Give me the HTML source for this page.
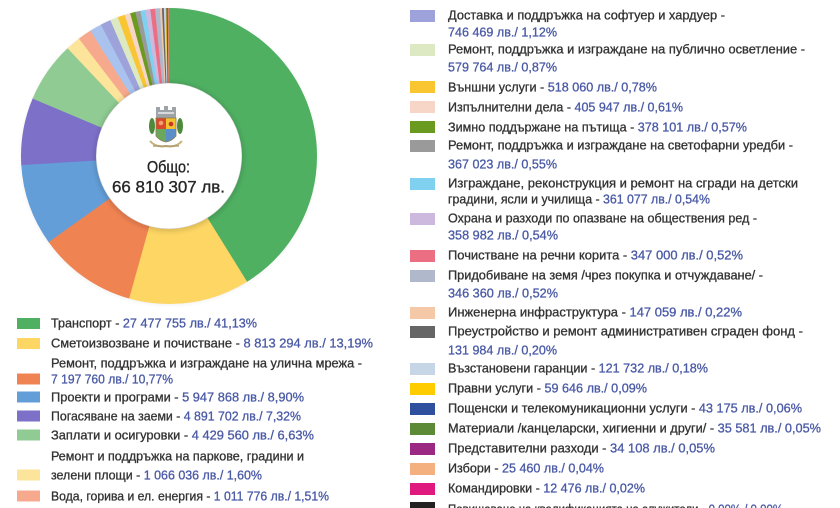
<!DOCTYPE html>
<html>
<head>
<meta charset="utf-8">
<style>
html,body{margin:0;padding:0;background:#fff;}
body{width:840px;height:508px;overflow:hidden;}
svg{display:block;}
text{font-family:"Liberation Sans","DejaVu Sans",sans-serif;white-space:pre;}
.l{font-size:12.5px;fill:#333;stroke:#333;stroke-width:0.3;}
.v{fill:#4a5aa6;stroke:#4a5aa6;}
</style>
</head>
<body>
<svg width="840" height="508" viewBox="0 0 840 508" xmlns="http://www.w3.org/2000/svg">
<defs>
<filter id="blur" x="-30%" y="-30%" width="160%" height="160%"><feGaussianBlur stdDeviation="2.5"/></filter>
<filter id="blur2" x="-30%" y="-30%" width="160%" height="160%"><feGaussianBlur stdDeviation="2"/></filter>
</defs>
<rect width="840" height="508" fill="#fff"/>

<!-- outer soft shadow -->
<circle cx="169" cy="157" r="148" fill="#000" opacity="0.06" filter="url(#blur2)"/>

<!-- donut: r=110.5, C=694.29 -->
<g transform="rotate(-90 169 156)" fill="none" stroke-width="75">
<circle cx="169" cy="156" r="110.5" stroke="#4fb062" stroke-dasharray="0 0 286.1 2000"/>
<circle cx="169" cy="156" r="110.5" stroke="#fdd663" stroke-dasharray="0 285.56 92.1 2000"/>
<circle cx="169" cy="156" r="110.5" stroke="#f08352" stroke-dasharray="0 377.14 75.3 2000"/>
<circle cx="169" cy="156" r="110.5" stroke="#649ed8" stroke-dasharray="0 451.91 62.3 2000"/>
<circle cx="169" cy="156" r="110.5" stroke="#7d70c9" stroke-dasharray="0 513.70 51.3 2000"/>
<circle cx="169" cy="156" r="110.5" stroke="#8fcb92" stroke-dasharray="0 564.52 46.5 2000"/>
<circle cx="169" cy="156" r="110.5" stroke="#fde49b" stroke-dasharray="0 610.55 11.6 2000"/>
<circle cx="169" cy="156" r="110.5" stroke="#f6a98c" stroke-dasharray="0 621.66 11.0 2000"/>
<circle cx="169" cy="156" r="110.5" stroke="#a9c3ee" stroke-dasharray="0 632.14 9.5 2000"/>
<circle cx="169" cy="156" r="110.5" stroke="#9da2da" stroke-dasharray="0 641.17 8.3 2000"/>
<circle cx="169" cy="156" r="110.5" stroke="#dde9c3" stroke-dasharray="0 648.95 6.5 2000"/>
<circle cx="169" cy="156" r="110.5" stroke="#f9c530" stroke-dasharray="0 654.99 5.9 2000"/>
<circle cx="169" cy="156" r="110.5" stroke="#f7d6c8" stroke-dasharray="0 660.41 4.7 2000"/>
<circle cx="169" cy="156" r="110.5" stroke="#6a9a20" stroke-dasharray="0 664.65 4.4 2000"/>
<circle cx="169" cy="156" r="110.5" stroke="#9a9a9a" stroke-dasharray="0 668.61 4.3 2000"/>
<circle cx="169" cy="156" r="110.5" stroke="#80d0f0" stroke-dasharray="0 672.43 4.2 2000"/>
<circle cx="169" cy="156" r="110.5" stroke="#cdb8de" stroke-dasharray="0 676.18 4.2 2000"/>
<circle cx="169" cy="156" r="110.5" stroke="#ec6e82" stroke-dasharray="0 679.93 4.1 2000"/>
<circle cx="169" cy="156" r="110.5" stroke="#b0b9cc" stroke-dasharray="0 683.54 4.1 2000"/>
<circle cx="169" cy="156" r="110.5" stroke="#f5c9a8" stroke-dasharray="0 687.15 2.0 2000"/>
<circle cx="169" cy="156" r="110.5" stroke="#666666" stroke-dasharray="0 688.68 1.9 2000"/>
<circle cx="169" cy="156" r="110.5" stroke="#c6d6e7" stroke-dasharray="0 690.07 1.7 2000"/>
<circle cx="169" cy="156" r="110.5" stroke="#ffcc00" stroke-dasharray="0 691.32 1.1 2000"/>
<circle cx="169" cy="156" r="110.5" stroke="#2f4f9f" stroke-dasharray="0 691.94 0.9 2000"/>
<circle cx="169" cy="156" r="110.5" stroke="#5c8a36" stroke-dasharray="0 692.36 0.8 2000"/>
<circle cx="169" cy="156" r="110.5" stroke="#9b2882" stroke-dasharray="0 692.71 0.8 2000"/>
<circle cx="169" cy="156" r="110.5" stroke="#f5b080" stroke-dasharray="0 693.06 0.7 2000"/>
<circle cx="169" cy="156" r="110.5" stroke="#e0197f" stroke-dasharray="0 693.34 0.6 2000"/>
<circle cx="169" cy="156" r="110.5" stroke="#c9a04a" stroke-dasharray="0 693.48 0.9 2000"/>
</g>

<!-- inner shadow + white disc -->
<circle cx="169" cy="157" r="75" fill="#000" opacity="0.12" filter="url(#blur)"/>
<circle cx="169" cy="156" r="72.5" fill="#fff"/>

<!-- emblem -->
<g>
  <rect x="156" y="110" width="20" height="8" fill="#9ea3a8"/>
  <rect x="156" y="107" width="4" height="4" fill="#9ea3a8"/>
  <rect x="164" y="106" width="4" height="5" fill="#9ea3a8"/>
  <rect x="172" y="107" width="4" height="4" fill="#9ea3a8"/>
  <rect x="158" y="112" width="16" height="2" fill="#d7dadd"/>
  <ellipse cx="152" cy="126" rx="3" ry="8" fill="#4f8a3c"/>
  <ellipse cx="180" cy="126" rx="3" ry="8" fill="#4f8a3c"/>
  <path d="M156 118 H166 V129 H156 Z" fill="#d9482b"/>
  <path d="M166 118 H176 V129 H166 Z" fill="#f2c230"/>
  <path d="M156 129 H166 V142 Q160 141 156 136 Z" fill="#6aa85e"/>
  <path d="M166 129 H176 V136 Q172 141 166 142 Z" fill="#5b8ec9"/>
  <circle cx="161" cy="123" r="2.3" fill="#f0a070"/>
  <circle cx="171" cy="124" r="2.3" fill="#c8342a"/>
  <path d="M156 118 H176 V136 Q172 141 166 142 Q160 141 156 136 Z" fill="none" stroke="#8a7a50" stroke-width="0.8"/>
  <path d="M150 141 Q156 148 166 146 Q176 148 182 141" fill="none" stroke="#c7b27a" stroke-width="2"/>
  <path d="M153 146 H179" stroke="#a89466" stroke-width="1.2"/>
</g>

<!-- center text -->
<text x="147" y="172.5" font-size="16.5" fill="#262626" stroke="#262626" stroke-width="0.35" textLength="43" lengthAdjust="spacingAndGlyphs">Общо:</text>
<text x="112" y="192.5" font-size="16.5" fill="#262626" stroke="#262626" stroke-width="0.35" textLength="113" lengthAdjust="spacingAndGlyphs">66 810 307 лв.</text>

<!-- left legend swatches -->
<rect x="17" y="318" width="23" height="11" fill="#4fb062"/>
<rect x="17" y="338" width="23" height="11" fill="#fdd663"/>
<rect x="17" y="373.5" width="23" height="11" fill="#f08352"/>
<rect x="17" y="391.5" width="23" height="11" fill="#649ed8"/>
<rect x="17" y="410.5" width="23" height="11" fill="#7d70c9"/>
<rect x="17" y="429.5" width="23" height="11" fill="#8fcb92"/>
<rect x="17" y="469.5" width="23" height="11" fill="#fde49b"/>
<rect x="17" y="490.5" width="23" height="11" fill="#f6a98c"/>

<!-- left legend text -->
<text class="l" x="51" y="327.5" textLength="206" lengthAdjust="spacingAndGlyphs">Транспорт - <tspan class="v">27 477 755 лв./ 41,13%</tspan></text>
<text class="l" x="51" y="347.5" textLength="322" lengthAdjust="spacingAndGlyphs">Сметоизвозване и почистване - <tspan class="v">8 813 294 лв./ 13,19%</tspan></text>
<text class="l" x="51" y="367.5" textLength="311" lengthAdjust="spacingAndGlyphs">Ремонт, поддръжка и изграждане на улична мрежа -</text>
<text class="l v" x="51" y="383.5" textLength="122" lengthAdjust="spacingAndGlyphs">7 197 760 лв./ 10,77%</text>
<text class="l" x="51" y="401.5" textLength="253" lengthAdjust="spacingAndGlyphs">Проекти и програми - <tspan class="v">5 947 868 лв./ 8,90%</tspan></text>
<text class="l" x="51" y="420.5" textLength="250" lengthAdjust="spacingAndGlyphs">Погасяване на заеми - <tspan class="v">4 891 702 лв./ 7,32%</tspan></text>
<text class="l" x="51" y="439.5" textLength="263" lengthAdjust="spacingAndGlyphs">Заплати и осигуровки - <tspan class="v">4 429 560 лв./ 6,63%</tspan></text>
<text class="l" x="51" y="460.5" textLength="253" lengthAdjust="spacingAndGlyphs">Ремонт и поддръжка на паркове, градини и</text>
<text class="l" x="51" y="479.5" textLength="211" lengthAdjust="spacingAndGlyphs">зелени площи - <tspan class="v">1 066 036 лв./ 1,60%</tspan></text>
<text class="l" x="51" y="500.5" textLength="278" lengthAdjust="spacingAndGlyphs">Вода, горива и ел. енергия - <tspan class="v">1 011 776 лв./ 1,51%</tspan></text>

<!-- right legend swatches -->
<rect x="410" y="10" width="25" height="12" fill="#9da2da"/>
<rect x="410" y="44" width="25" height="12" fill="#dde9c3"/>
<rect x="410" y="81" width="25" height="12" fill="#f9c530"/>
<rect x="410" y="101" width="25" height="12" fill="#f7d6c8"/>
<rect x="410" y="121" width="25" height="12" fill="#6a9a20"/>
<rect x="410" y="140" width="25" height="12" fill="#9a9a9a"/>
<rect x="410" y="178" width="25" height="12" fill="#80d0f0"/>
<rect x="410" y="213" width="25" height="12" fill="#cdb8de"/>
<rect x="410" y="250" width="25" height="12" fill="#ec6e82"/>
<rect x="410" y="270" width="25" height="12" fill="#b0b9cc"/>
<rect x="410" y="307" width="25" height="12" fill="#f5c9a8"/>
<rect x="410" y="326" width="25" height="12" fill="#666666"/>
<rect x="410" y="363" width="25" height="12" fill="#c6d6e7"/>
<rect x="410" y="383" width="25" height="12" fill="#ffcc00"/>
<rect x="410" y="403" width="25" height="12" fill="#2f4f9f"/>
<rect x="410" y="423" width="25" height="12" fill="#5c8a36"/>
<rect x="410" y="443" width="25" height="12" fill="#9b2882"/>
<rect x="410" y="463" width="25" height="12" fill="#f5b080"/>
<rect x="410" y="483" width="25" height="12" fill="#e0197f"/>
<rect x="410" y="502" width="25" height="12" fill="#222222"/>

<!-- right legend text -->
<text class="l" x="448" y="19.5" textLength="277" lengthAdjust="spacingAndGlyphs">Доставка и поддръжка на софтуер и хардуер -</text>
<text class="l v" x="448" y="36.5" textLength="109" lengthAdjust="spacingAndGlyphs">746 469 лв./ 1,12%</text>
<text class="l" x="448" y="53.5" textLength="357" lengthAdjust="spacingAndGlyphs">Ремонт, поддръжка и изграждане на публично осветление -</text>
<text class="l v" x="448" y="71.5" textLength="109" lengthAdjust="spacingAndGlyphs">579 764 лв./ 0,87%</text>
<text class="l" x="448" y="91.5" textLength="209" lengthAdjust="spacingAndGlyphs">Външни услуги - <tspan class="v">518 060 лв./ 0,78%</tspan></text>
<text class="l" x="448" y="111.5" textLength="235" lengthAdjust="spacingAndGlyphs">Изпълнителни дела - <tspan class="v">405 947 лв./ 0,61%</tspan></text>
<text class="l" x="448" y="131.5" textLength="299" lengthAdjust="spacingAndGlyphs">Зимно поддържане на пътища - <tspan class="v">378 101 лв./ 0,57%</tspan></text>
<text class="l" x="448" y="149.5" textLength="345" lengthAdjust="spacingAndGlyphs">Ремонт, поддръжка и изграждане на светофарни уредби -</text>
<text class="l v" x="448" y="168.5" textLength="109" lengthAdjust="spacingAndGlyphs">367 023 лв./ 0,55%</text>
<text class="l" x="448" y="187.5" textLength="350" lengthAdjust="spacingAndGlyphs">Изграждане, реконструкция и ремонт на сгради на детски</text>
<text class="l" x="448" y="203.5" textLength="262" lengthAdjust="spacingAndGlyphs">градини, ясли и училища - <tspan class="v">361 077 лв./ 0,54%</tspan></text>
<text class="l" x="448" y="222.5" textLength="309" lengthAdjust="spacingAndGlyphs">Охрана и разходи по опазване на обществения ред -</text>
<text class="l v" x="448" y="239.5" textLength="110" lengthAdjust="spacingAndGlyphs">358 982 лв./ 0,54%</text>
<text class="l" x="448" y="259.5" textLength="295" lengthAdjust="spacingAndGlyphs">Почистване на речни корита - <tspan class="v">347 000 лв./ 0,52%</tspan></text>
<text class="l" x="448" y="279.5" textLength="315" lengthAdjust="spacingAndGlyphs">Придобиване на земя /чрез покупка и отчуждаване/ -</text>
<text class="l v" x="448" y="297.5" textLength="110" lengthAdjust="spacingAndGlyphs">346 360 лв./ 0,52%</text>
<text class="l" x="448" y="316.5" textLength="294" lengthAdjust="spacingAndGlyphs">Инженерна инфраструктура - <tspan class="v">147 059 лв./ 0,22%</tspan></text>
<text class="l" x="448" y="335.5" textLength="355" lengthAdjust="spacingAndGlyphs">Преустройство и ремонт административен сграден фонд -</text>
<text class="l v" x="448" y="354.5" textLength="109" lengthAdjust="spacingAndGlyphs">131 984 лв./ 0,20%</text>
<text class="l" x="448" y="372.5" textLength="260" lengthAdjust="spacingAndGlyphs">Възстановени гаранции - <tspan class="v">121 732 лв./ 0,18%</tspan></text>
<text class="l" x="448" y="392.5" textLength="199" lengthAdjust="spacingAndGlyphs">Правни услуги - <tspan class="v">59 646 лв./ 0,09%</tspan></text>
<text class="l" x="448" y="412.5" textLength="354" lengthAdjust="spacingAndGlyphs">Пощенски и телекомуникационни услуги - <tspan class="v">43 175 лв./ 0,06%</tspan></text>
<text class="l" x="448" y="432.5" textLength="373" lengthAdjust="spacingAndGlyphs">Материали /канцеларски, хигиенни и други/ - <tspan class="v">35 581 лв./ 0,05%</tspan></text>
<text class="l" x="448" y="452.5" textLength="267" lengthAdjust="spacingAndGlyphs">Представителни разходи - <tspan class="v">34 108 лв./ 0,05%</tspan></text>
<text class="l" x="448" y="472.5" textLength="156" lengthAdjust="spacingAndGlyphs">Избори - <tspan class="v">25 460 лв./ 0,04%</tspan></text>
<text class="l" x="448" y="492.5" textLength="197" lengthAdjust="spacingAndGlyphs">Командировки - <tspan class="v">12 476 лв./ 0,02%</tspan></text>
<text class="l" x="448" y="513.5" textLength="335" lengthAdjust="spacingAndGlyphs">Повишаване на квалификацията на служители - <tspan class="v">0,00% / 0,00%</tspan></text>
</svg>
</body>
</html>
